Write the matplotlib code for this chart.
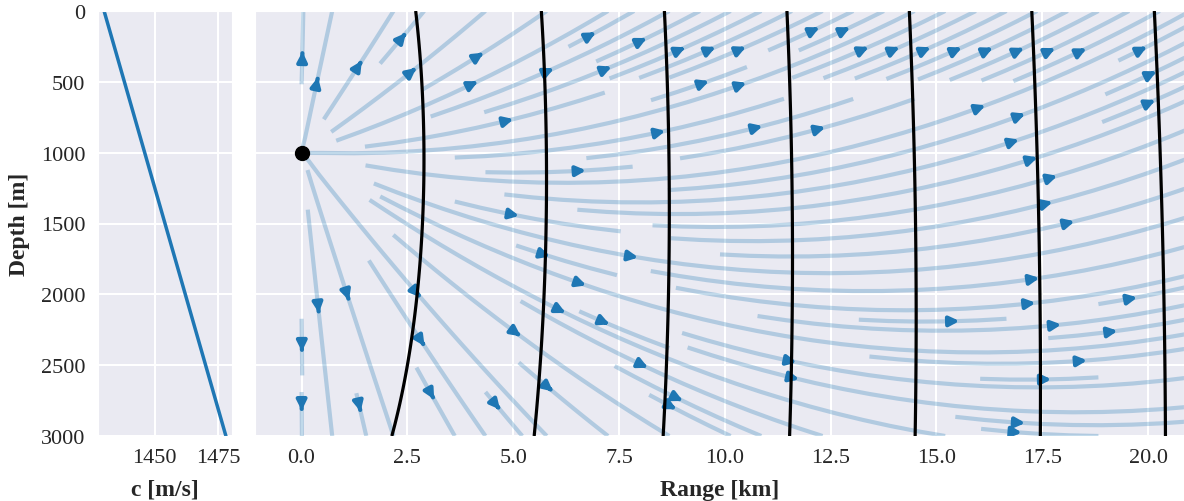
import numpy as np
import matplotlib
matplotlib.use("Agg")
import matplotlib.pyplot as plt
import seaborn as sns

# sound speed profile (linear gradient)
depth_profile = [0.0, 3000.0]      # m
speed_profile = [1430.0, 1478.0]   # m/s

source_range = 0.0     # km
source_depth = 1000.0  # m

wavefront_times = [2, 4, 6, 8, 10, 12, 14]  # s

range_ticks = [0.0, 2.5, 5.0, 7.5, 10.0, 12.5, 15.0, 17.5, 20.0]
depth_ticks = [0, 500, 1000, 1500, 2000, 2500, 3000]
speed_ticks = [1450, 1475]


def travel_time(r_m, z_m):
    c0 = speed_profile[0]
    g = (speed_profile[1] - speed_profile[0]) / (depth_profile[1] - depth_profile[0])
    cs = c0 + g * source_depth
    cz = c0 + g * z_m
    R2 = (r_m - source_range * 1000) ** 2 + (z_m - source_depth) ** 2
    return np.arccosh(1 + g ** 2 * R2 / (2 * cs * cz)) / g


sns.set_style("darkgrid")
plt.rcParams["font.family"] = ["Liberation Serif", "DejaVu Serif"]
plt.rcParams["grid.linewidth"] = 1.5

fig = plt.figure(figsize=(11.84, 5.02), dpi=100)
ax_c = fig.add_axes([98 / 1184, 65 / 502, 134 / 1184, 425 / 502])
ax = fig.add_axes([255 / 1184, 65 / 502, 929 / 1184, 425 / 502])

# left panel: c(z)
ax_c.plot(speed_profile, depth_profile, color="C0", lw=2.5)
ax_c.set_ylim(3000, 0)
ax_c.set_xlim(1427.6, 1480.4)
ax_c.set_xticks(speed_ticks)
ax_c.set_yticks(depth_ticks)
ax_c.set_xlabel("c [m/s]", fontsize=17, fontweight="bold", labelpad=8)
ax_c.set_ylabel("Depth [m]", fontsize=17, fontweight="bold", labelpad=8)

# right panel: ray directions + wavefronts
x_km = np.linspace(0, 21, 220)
z_m = np.linspace(0, 3000, 220)
X, Z = np.meshgrid(x_km, z_m)
T = travel_time(X * 1000, Z)
Tz, Tr = np.gradient(T, z_m, x_km * 1000)
U = Tr / 1000.0
V = Tz

strm = ax.streamplot(x_km, z_m, U, V, color="C0", linewidth=3,
                     density=1, arrowsize=1.4, zorder=2)
strm.lines.set_alpha(0.28)

ax.contour(X, Z, T, levels=wavefront_times, colors="black",
           linewidths=2.3, zorder=3)
ax.plot(source_range, source_depth, "o", color="black", ms=10, zorder=4)

ax.set_xlim(-1.1, 20.85)
ax.set_ylim(3000, 0)
ax.set_xticks(range_ticks)
ax.set_yticks(depth_ticks)
ax.set_yticklabels([])
ax.set_xlabel("Range [km]", fontsize=17, fontweight="bold", labelpad=8)

for a in (ax_c, ax):
    a.tick_params(length=0, pad=9, labelsize=16)

fig.savefig("out.png", dpi=100)
